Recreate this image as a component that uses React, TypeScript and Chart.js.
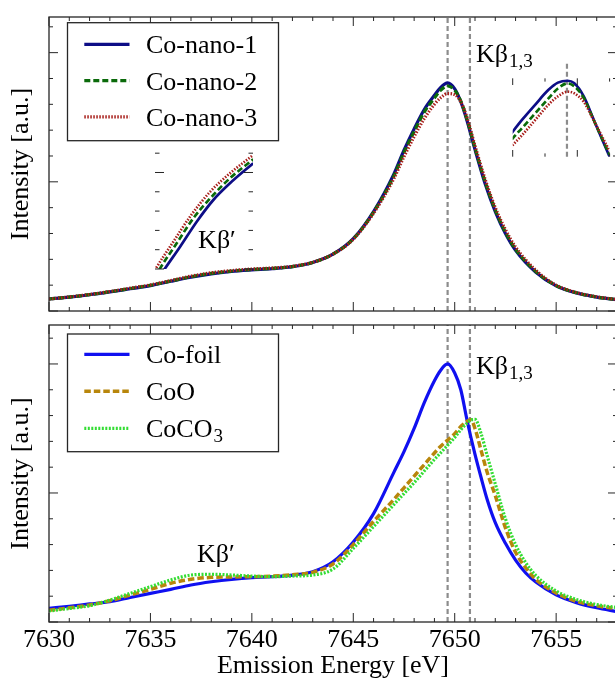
import React, { useEffect, useRef } from 'react';
import { Chart, registerables } from 'chart.js';

Chart.register(...registerables);

const FONT = '"Liberation Serif", "Times New Roman", Times, serif';
const FRAME_COLOR = '#262626';
const GUIDE_COLOR = '#8c8c8c';

// ---------------- data ----------------
const xMin = 7630;
const xMax = 7658;
const xTickLabels = [7630, 7635, 7640, 7645, 7650, 7655];
const kbLineEnergies = [7649.65, 7650.75];

const topLabels = ['Co-nano-1', 'Co-nano-2', 'Co-nano-3'];
const bottomLabels = ['Co-foil', 'CoO', 'CoCO_3'];

const topEnergy = [
  7630, 7631, 7632, 7633, 7634, 7635, 7636, 7637, 7638, 7639, 7640, 7641, 7642, 7643, 7644, 7645, 7646, 7647,
  7647.5, 7648, 7648.5, 7649, 7649.3, 7649.65, 7650, 7650.3, 7650.6, 7651, 7651.5, 7652, 7652.5, 7653,
  7654, 7655, 7656, 7657, 7658,
];
const coNano1 = [
  0.093, 0.108, 0.126, 0.148, 0.172, 0.196, 0.23, 0.262, 0.288, 0.306, 0.318, 0.328, 0.343, 0.376, 0.44, 0.56, 0.77, 1.06,
  1.245, 1.41, 1.56, 1.67, 1.73, 1.766, 1.72, 1.62, 1.477, 1.25, 0.985, 0.77, 0.6, 0.47,
  0.3, 0.195, 0.14, 0.108, 0.088,
];
const coNano2 = [
  0.093, 0.108, 0.127, 0.149, 0.174, 0.199, 0.232, 0.265, 0.291, 0.309, 0.321, 0.33, 0.344, 0.376, 0.44, 0.558, 0.765, 1.045,
  1.228, 1.39, 1.54, 1.648, 1.708, 1.742, 1.71, 1.625, 1.487, 1.262, 1.0, 0.782, 0.61, 0.478,
  0.305, 0.197, 0.141, 0.108, 0.088,
];
const coNano3 = [
  0.093, 0.109, 0.128, 0.151, 0.177, 0.202, 0.236, 0.27, 0.296, 0.313, 0.325, 0.333, 0.346, 0.377, 0.44, 0.555, 0.757, 1.025,
  1.195, 1.35, 1.49, 1.6, 1.65, 1.683, 1.675, 1.62, 1.5, 1.28, 1.02, 0.8, 0.63, 0.495,
  0.315, 0.2, 0.143, 0.11, 0.089,
];

const bottomEnergy = [
  7630, 7631, 7632, 7633, 7634, 7635, 7636, 7637, 7638, 7639, 7640, 7641, 7642, 7643, 7644, 7645,
  7646, 7647, 7647.5, 7648, 7648.5, 7649, 7649.3, 7649.65, 7650, 7650.3, 7650.6, 7650.8, 7651, 7651.3,
  7651.6, 7652, 7652.5, 7653, 7653.5, 7654, 7655, 7656, 7657, 7658,
];
const coFoil = [
  0.106, 0.122, 0.14, 0.157, 0.19, 0.222, 0.253, 0.287, 0.312, 0.331, 0.344, 0.351, 0.364, 0.39, 0.467, 0.62,
  0.84, 1.16, 1.32, 1.5, 1.7, 1.87, 1.95, 2.0, 1.93, 1.8, 1.57, 1.43, 1.3, 1.12,
  0.95, 0.77, 0.61, 0.48, 0.38, 0.31, 0.21, 0.15, 0.11, 0.08,
];
const coO = [
  0.09, 0.11, 0.132, 0.165, 0.209, 0.253, 0.3, 0.331, 0.346, 0.349, 0.351, 0.356, 0.367, 0.385, 0.45, 0.6,
  0.78, 0.95, 1.04, 1.13, 1.22, 1.31, 1.36, 1.41, 1.46, 1.515, 1.555, 1.568, 1.5, 1.33,
  1.16, 0.98, 0.73, 0.54, 0.42, 0.33, 0.225, 0.16, 0.125, 0.103,
];
const coCO3 = [
  0.085, 0.105, 0.126, 0.17, 0.222, 0.274, 0.326, 0.364, 0.37, 0.364, 0.356, 0.351, 0.356, 0.364, 0.41, 0.57,
  0.74, 0.91, 0.995, 1.08, 1.17, 1.26, 1.31, 1.37, 1.43, 1.49, 1.54, 1.565, 1.57, 1.46,
  1.29, 1.07, 0.8, 0.6, 0.46, 0.36, 0.24, 0.175, 0.135, 0.112,
];

// Kβ' inset (magnified view)
const kbpInsetRange = [7635.23, 7640.07];
const kbpEnergy1 = [7635.2, 7635.73, 7636.47, 7637.29, 7638.11, 7638.93, 7640.08];
const kbpNano1 = [-0.16, 0.007, 0.231, 0.49, 0.715, 0.888, 1.096];
const kbpEnergy2 = [7635.0, 7635.48, 7636.3, 7637.12, 7638.11, 7638.93, 7640.08];
const kbpNano2 = [-0.17, 0.007, 0.266, 0.525, 0.767, 0.94, 1.137];
const kbpEnergy3 = [7634.8, 7635.28, 7636.14, 7636.96, 7637.95, 7638.93, 7640.08];
const kbpNano3 = [-0.18, 0.007, 0.283, 0.542, 0.8, 0.991, 1.181];

// Kβ1,3 inset (magnified view)
const peakInsetRange = [7649.0, 7650.5];
const peakInsetLine = 7649.84;
const peakEnergy = [7648.9, 7649.0, 7649.15, 7649.35, 7649.55, 7649.7, 7649.85, 7649.95, 7650.1, 7650.25, 7650.4, 7650.5, 7650.6];
const peakNano1 = [0.21, 0.319, 0.475, 0.665, 0.85, 0.945, 0.969, 0.94, 0.77, 0.48, 0.19, 0.0, -0.19];
const peakNano2 = [0.13, 0.235, 0.37, 0.555, 0.74, 0.87, 0.935, 0.9, 0.75, 0.475, 0.2, 0.025, -0.15];
const peakNano3 = [0.06, 0.149, 0.28, 0.47, 0.66, 0.77, 0.829, 0.81, 0.7, 0.47, 0.23, 0.07, -0.1];

// ---------------- styles ----------------
const topStyles = [
  { color: '#0d0d86', dash: [] as number[], width: 3.2 },
  { color: '#0a6a0a', dash: [6, 3], width: 3.2 },
  { color: '#a8201c', dash: [1.5, 1.5], width: 3.2 },
];
const bottomStyles = [
  { color: '#1010f0', dash: [] as number[], width: 3.2 },
  { color: '#b8860b', dash: [6.5, 3], width: 3.5 },
  { color: '#33dd33', dash: [2, 1.5], width: 3.2 },
];

// ---------------- helpers ----------------
function drawRich(ctx: CanvasRenderingContext2D, text: string, x: number, baseline: number, size: number, subSize: number, drop: number) {
  const [main, sub] = text.split('_');
  ctx.textBaseline = 'alphabetic';
  ctx.textAlign = 'left';
  ctx.fillStyle = '#000';
  ctx.font = `${size}px ${FONT}`;
  ctx.fillText(main, x, baseline);
  if (sub) {
    const w = ctx.measureText(main).width;
    ctx.font = `${subSize}px ${FONT}`;
    ctx.fillText(sub, x + w + 1, baseline + drop);
  }
}

const tickPlugin = {
  id: 'inTicks',
  afterDatasetsDraw(chart: any, _a: any, o: any) {
    if (!o || !o.enabled) return;
    const { ctx, chartArea: a } = chart;
    const xs = chart.scales.x;
    const ys = chart.scales.y;
    ctx.save();
    ctx.strokeStyle = FRAME_COLOR;
    if (o.frame) {
      ctx.lineWidth = o.frameWidth;
      ctx.strokeRect(a.left, a.top, a.right - a.left, a.bottom - a.top);
    }
    ctx.lineWidth = o.width;
    ctx.beginPath();
    const eps = 1e-6;
    if (o.xSides && o.xSides.length) {
      const start = Math.ceil(xs.min / o.xMinor - eps);
      for (let k = start; k * o.xMinor <= xs.max + eps; k++) {
        const v = k * o.xMinor;
        const r = v / o.xMajor;
        const major = Math.abs(r - Math.round(r)) < 1e-6;
        const len = major ? o.majorLen : o.minorLen;
        const px = xs.getPixelForValue(v);
        for (const s of o.xSides) {
          if (s === 'bottom') { ctx.moveTo(px, a.bottom); ctx.lineTo(px, a.bottom - len); }
          else { ctx.moveTo(px, a.top); ctx.lineTo(px, a.top + len); }
        }
      }
    }
    if (o.ySides && o.ySides.length) {
      const start = Math.ceil(ys.min / o.yMinor - eps);
      for (let k = start; k * o.yMinor <= ys.max + eps; k++) {
        const v = k * o.yMinor;
        const r = v / o.yMajor;
        const major = Math.abs(r - Math.round(r)) < 1e-6;
        const len = major ? o.majorLen : o.minorLen;
        const py = ys.getPixelForValue(v);
        for (const s of o.ySides) {
          if (s === 'left') { ctx.moveTo(a.left, py); ctx.lineTo(a.left + len, py); }
          else { ctx.moveTo(a.right, py); ctx.lineTo(a.right - len, py); }
        }
      }
    }
    ctx.stroke();
    ctx.restore();
  },
};

const guidePlugin = {
  id: 'guides',
  beforeDatasetsDraw(chart: any, _a: any, o: any) {
    if (!o || !o.values) return;
    const { ctx, chartArea: a } = chart;
    ctx.save();
    ctx.strokeStyle = GUIDE_COLOR;
    ctx.lineWidth = o.width;
    ctx.setLineDash(o.dash);
    for (const v of o.values) {
      const px = chart.scales.x.getPixelForValue(v);
      ctx.beginPath();
      ctx.moveTo(px, a.bottom);
      ctx.lineTo(px, a.top - (o.extendTop || 0));
      ctx.stroke();
    }
    ctx.restore();
  },
};

const notePlugin = {
  id: 'notes',
  afterDatasetsDraw(chart: any, _a: any, o: any) {
    if (!o || !o.items) return;
    const { ctx } = chart;
    ctx.save();
    for (const it of o.items) {
      const px = chart.scales.x.getPixelForValue(it.x);
      const py = chart.scales.y.getPixelForValue(it.y);
      drawRich(ctx, it.text, px, py, 26, 19, 5);
    }
    ctx.restore();
  },
};

const legendPlugin = {
  id: 'boxLegend',
  afterDraw(chart: any, _a: any, o: any) {
    if (!o || !o.display) return;
    const { ctx, chartArea: a } = chart;
    const x0 = a.left + o.dx;
    const y0 = a.top + o.dy;
    ctx.save();
    ctx.fillStyle = '#fff';
    ctx.fillRect(x0, y0, o.w, o.h);
    ctx.strokeStyle = FRAME_COLOR;
    ctx.lineWidth = 1.3;
    ctx.strokeRect(x0, y0, o.w, o.h);
    chart.data.datasets.forEach((ds: any, i: number) => {
      const yy = y0 + o.firstRow + i * o.rowGap;
      ctx.strokeStyle = ds.borderColor;
      ctx.lineWidth = ds.borderWidth;
      ctx.setLineDash(ds.borderDash || []);
      ctx.beginPath();
      ctx.moveTo(x0 + o.lineStart, yy);
      ctx.lineTo(x0 + o.lineEnd, yy);
      ctx.stroke();
      ctx.setLineDash([]);
      drawRich(ctx, ds.label, x0 + o.textStart, yy + 9, 26, 19, 5);
    });
    ctx.restore();
  },
};

function makeDatasets(energy: number[][] | number[], values: number[][], labels: string[], styles: any[]) {
  return values.map((vals, i) => {
    const en = Array.isArray((energy as any)[0]) ? (energy as number[][])[i] : (energy as number[]);
    return {
      label: labels[i],
      data: en.map((e, k) => ({ x: e, y: vals[k] })),
      borderColor: styles[i].color,
      borderWidth: styles[i].width,
      borderDash: styles[i].dash,
      pointRadius: 0,
      fill: false,
      cubicInterpolationMode: 'monotone',
      order: 10 - i,
    };
  });
}

const yTitle = {
  display: true,
  text: 'Intensity [a.u.]',
  color: '#000',
  font: { family: FONT, size: 26 },
  padding: { top: 6, bottom: 0 },
};

function mainConfig(p: any) {
  return {
    type: 'line',
    data: { datasets: makeDatasets(p.energy, p.values, p.labels, p.styles) },
    options: {
      responsive: false,
      animation: false,
      devicePixelRatio: 1,
      events: [],
      layout: { padding: p.padding },
      plugins: {
        legend: { display: false },
        tooltip: { enabled: false },
        inTicks: {
          enabled: true, frame: true, frameWidth: 1.3, width: 1,
          xSides: ['bottom', 'top'], ySides: ['left', 'right'],
          xMinor: 1, xMajor: 5, yMinor: 0.2, yMajor: 1, minorLen: 4, majorLen: 9,
        },
        guides: { values: kbLineEnergies, width: 2.2, dash: [5, 3] },
        notes: { items: p.notes },
        boxLegend: p.legend,
      },
      scales: {
        x: p.showX
          ? {
              type: 'linear', min: xMin, max: xMax, position: 'bottom',
              grid: { display: false, drawTicks: false },
              border: { display: false },
              afterBuildTicks: (s: any) => { s.ticks = xTickLabels.map((v) => ({ value: v })); },
              ticks: {
                autoSkip: false, maxRotation: 0, padding: 3, color: '#000',
                font: { family: FONT, size: 26 },
                callback: (v: number) => String(v),
              },
              title: {
                display: true, text: 'Emission Energy [eV]', color: '#000',
                font: { family: FONT, size: 26 }, padding: { top: 0, bottom: 0 },
              },
              afterFit: (s: any) => { s.height = 60; },
            }
          : { type: 'linear', min: xMin, max: xMax, display: false },
        y: {
          min: 0, max: p.yMax,
          grid: { display: false, drawTicks: false },
          border: { display: false },
          ticks: { display: false },
          title: yTitle,
          afterFit: (s: any) => { s.width = 49; },
        },
      },
    },
    plugins: [guidePlugin, tickPlugin, notePlugin, legendPlugin],
  };
}

function insetConfig(p: any) {
  return {
    type: 'line',
    data: { datasets: makeDatasets(p.energy, p.values, topLabels, topStyles.map((s) => ({ ...s, width: 2.7 }))) },
    options: {
      responsive: false,
      animation: false,
      devicePixelRatio: 1,
      events: [],
      layout: { padding: p.padding },
      plugins: {
        legend: { display: false },
        tooltip: { enabled: false },
        inTicks: { enabled: true, frame: false, width: 1, ...p.ticks },
        guides: p.guides,
      },
      scales: {
        x: { type: 'linear', min: p.xRange[0], max: p.xRange[1], display: false },
        y: { min: 0, max: p.yMax, display: false },
      },
    },
    plugins: [guidePlugin, tickPlugin],
  };
}

const topConfig = () =>
  mainConfig({
    energy: topEnergy,
    values: [coNano1, coNano2, coNano3],
    labels: topLabels,
    styles: topStyles,
    yMax: 2.276,
    showX: false,
    padding: { top: 17, bottom: 4, left: 0, right: 3 },
    notes: [
      { x: 7651.05, y: 1.93, text: 'Kβ_1,3' },
      { x: 7637.35, y: 0.485, text: 'Kβ′' },
    ],
    legend: { display: true, dx: 18.5, dy: 5.7, w: 211, h: 118, firstRow: 21.6, rowGap: 36.3, lineStart: 16.8, lineEnd: 62, textStart: 78.5 },
  });

const bottomConfig = () =>
  mainConfig({
    energy: bottomEnergy,
    values: [coFoil, coO, coCO3],
    labels: bottomLabels,
    styles: bottomStyles,
    yMax: 2.302,
    showX: true,
    padding: { top: 10, bottom: 0, left: 0, right: 3 },
    notes: [
      { x: 7651.05, y: 1.92, text: 'Kβ_1,3' },
      { x: 7637.29, y: 0.467, text: 'Kβ′' },
    ],
    legend: { display: true, dx: 18.5, dy: 9, w: 211, h: 117.7, firstRow: 20.3, rowGap: 37, lineStart: 16.8, lineEnd: 62, textStart: 78.5 },
  });

const kbpConfig = () =>
  insetConfig({
    energy: [kbpEnergy1, kbpEnergy2, kbpEnergy3],
    values: [kbpNano1, kbpNano2, kbpNano3],
    xRange: kbpInsetRange,
    yMax: 1.233,
    padding: { left: 5, right: 5, top: 5, bottom: 6 },
    ticks: { ySides: ['left', 'right'], yMinor: 0.2, yMajor: 1, minorLen: 4.5, majorLen: 9 },
    guides: null,
  });

const peakConfig = () =>
  insetConfig({
    energy: peakEnergy,
    values: [peakNano1, peakNano2, peakNano3],
    xRange: peakInsetRange,
    yMax: 1,
    padding: { left: 7.7, right: 10.4, top: 23.3, bottom: 8.3 },
    ticks: { xSides: ['top', 'bottom'], xMinor: 0.5, xMajor: 1, minorLen: 3.3, majorLen: 6.7 },
    guides: { values: [peakInsetLine], width: 2.2, dash: [5, 3], extendTop: 15 },
  });

function ChartCanvas({ left, top, width, height, config }: any) {
  const ref = useRef<HTMLCanvasElement>(null);
  useEffect(() => {
    const c = new Chart(ref.current as HTMLCanvasElement, config() as any);
    return () => c.destroy();
  }, []);
  return <canvas ref={ref} width={width} height={height} style={{ position: 'absolute', left, top, width, height }} />;
}

export default function App() {
  return (
    <div style={{ position: 'absolute', left: 0, top: 0, width: 615, height: 682, overflow: 'hidden', background: '#fff' }}>
      <ChartCanvas left={0} top={0} width={620} height={315} config={topConfig} />
      <ChartCanvas left={0} top={315} width={620} height={367} config={bottomConfig} />
      <ChartCanvas left={150} top={145} width={108} height={130} config={kbpConfig} />
      <ChartCanvas left={505} top={55} width={115} height={110} config={peakConfig} />
    </div>
  );
}
